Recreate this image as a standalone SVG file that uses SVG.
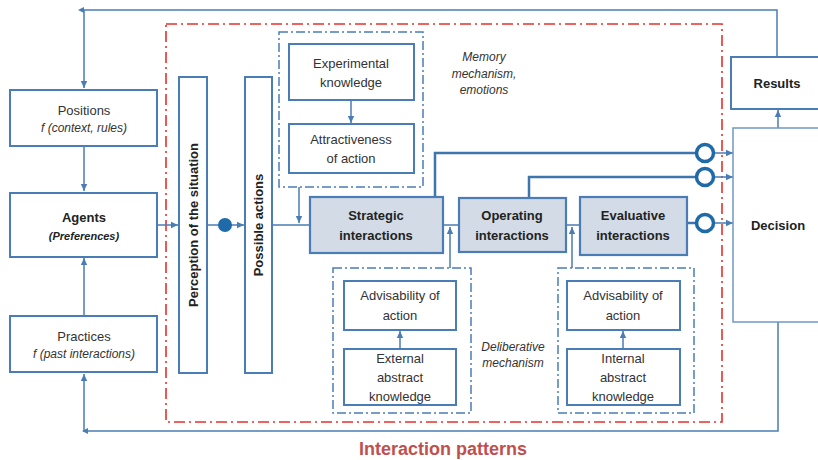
<svg xmlns="http://www.w3.org/2000/svg" width="818" height="460" viewBox="0 0 818 460">
<defs>
<style>
.box{fill:#fff;stroke:#4a7db5;stroke-width:2}
.gbox{fill:#d3dbe6;stroke:#4a7db5;stroke-width:2.2}
.thin{fill:#fff;stroke:#6f98c6;stroke-width:1.5}
.ln{fill:none;stroke:#4a7db5;stroke-width:1.5}
.lnb{fill:none;stroke:#3d75ad;stroke-width:2.5}
.dd{fill:none;stroke:#4a7db5;stroke-width:1.5;stroke-dasharray:9 3 2 3}
.red{fill:none;stroke:#e8302a;stroke-width:1.6;stroke-dasharray:11 4 2 4}
.ring{fill:#fff;stroke:#1f6aa8;stroke-width:3.5}
text{font-family:"Liberation Sans",Arial,sans-serif;font-size:13px;fill:#333;text-anchor:middle}
.b{font-weight:bold;fill:#222}
.i{font-style:italic;font-size:12px}
</style>
<marker id="ar" markerWidth="8" markerHeight="8" refX="7" refY="4" orient="auto" markerUnits="userSpaceOnUse"><path d="M0,0.8 L7,4 L0,7.2 Z" fill="#4a7db5"/></marker>
</defs>

<rect class="red" x="166" y="24" width="556" height="398"/>

<g id="connectors">
<path class="ln" d="M777,57 V10 H84 V88" marker-end="url(#ar)"/>
<path d="M84,7 L78,10 L84,13 Z" fill="#4a7db5"/>
<path class="ln" d="M84,146 V191" marker-end="url(#ar)"/>
<path class="ln" d="M84,316 V258" marker-end="url(#ar)"/>
<path class="ln" d="M778,322 V431 H84 V374" marker-end="url(#ar)"/>
<path d="M88,428 L82,431 L88,434 Z" fill="#4a7db5"/>
<path class="ln" d="M157,225 H178" marker-end="url(#ar)"/>
<path class="ln" d="M207,225 H244" marker-end="url(#ar)"/>
<circle cx="225" cy="225" r="7" fill="#1f6aa8"/>
<path class="ln" d="M272,225 H310"/>
<path class="ln" d="M299,187 V223" marker-end="url(#ar)"/>
<path class="ln" d="M351,100 V123" marker-end="url(#ar)"/>
<path class="ln" d="M443,225 H459"/>
<path class="ln" d="M566,225 H580"/>
<path class="ln" d="M450,268 V227" marker-end="url(#ar)"/>
<path class="ln" d="M572,268 V227" marker-end="url(#ar)"/>
<path class="ln" d="M400,349 V331" marker-end="url(#ar)"/>
<path class="ln" d="M623,349 V331" marker-end="url(#ar)"/>
<path class="lnb" d="M435,197 V153 H696"/>
<path class="lnb" d="M529,198 V177 H696"/>
<path class="lnb" d="M687,223 H696"/>
<path class="ln" d="M714,153 H733" marker-end="url(#ar)"/>
<path class="ln" d="M714,177 H733" marker-end="url(#ar)"/>
<path class="ln" d="M714,223 H733" marker-end="url(#ar)"/>
<circle class="ring" cx="705" cy="153" r="8.5"/>
<circle class="ring" cx="705" cy="177" r="8.5"/>
<circle class="ring" cx="705" cy="223" r="8.5"/>
<path class="ln" d="M778,128 V110" marker-end="url(#ar)"/>
</g>

<g id="positions"><rect class="box" x="10" y="90" width="147" height="56"/>
<text x="84" y="115">Positions</text><text class="i" x="84" y="132">f (context, rules)</text></g>
<g id="agents"><rect class="box" x="10" y="193" width="147" height="64"/>
<text class="b" x="84" y="222">Agents</text><text class="i b" x="84" y="240" style="font-size:11px">(Preferences)</text></g>
<g id="practices"><rect class="box" x="10" y="316" width="147" height="56"/>
<text x="84" y="341">Practices</text><text class="i" x="84" y="358">f (past interactions)</text></g>

<g id="perception"><rect class="box" x="179" y="77" width="28" height="296"/>
<text class="b" transform="translate(198,225) rotate(-90)">Perception of the situation</text></g>
<g id="possible-actions"><rect class="box" x="245" y="77" width="27" height="296"/>
<text class="b" transform="translate(263,225) rotate(-90)">Possible actions</text></g>

<g id="memory"><rect class="dd" x="279" y="32" width="144" height="155"/>
<text class="i" x="484" y="61">Memory</text><text class="i" x="484" y="78">mechanism,</text><text class="i" x="484" y="94">emotions</text></g>
<g id="experimental"><rect class="box" x="289" y="44" width="125" height="56"/>
<text x="351" y="68">Experimental</text><text x="351" y="87">knowledge</text></g>
<g id="attractiveness"><rect class="box" x="289" y="124" width="125" height="49"/>
<text x="351" y="144">Attractiveness</text><text x="351" y="163">of action</text></g>

<g id="strategic"><rect class="gbox" x="310" y="197" width="133" height="56"/>
<text class="b" x="376" y="220">Strategic</text><text class="b" x="376" y="240">interactions</text></g>
<g id="operating"><rect class="gbox" x="459" y="198" width="107" height="54"/>
<text class="b" x="512" y="220">Operating</text><text class="b" x="512" y="240">interactions</text></g>
<g id="evaluative"><rect class="gbox" x="580" y="197" width="107" height="58"/>
<text class="b" x="633" y="220">Evaluative</text><text class="b" x="633" y="240">interactions</text></g>

<g id="decision"><rect class="thin" x="733" y="128" width="90" height="194"/>
<text class="b" x="778" y="230">Decision</text></g>
<g id="results"><rect class="box" x="731" y="57" width="92" height="52"/>
<text class="b" x="777" y="88">Results</text></g>

<g id="deliberative-left"><rect class="dd" x="333" y="268" width="138" height="145"/>
<text class="i" x="513" y="351">Deliberative</text><text class="i" x="513" y="367">mechanism</text></g>
<g id="advisability-ext"><rect class="box" x="344" y="281" width="112" height="49"/>
<text x="400" y="300">Advisability of</text><text x="400" y="320">action</text></g>
<g id="external"><rect class="box" x="344" y="349" width="112" height="56"/>
<text x="400" y="363">External</text><text x="400" y="382">abstract</text><text x="400" y="401">knowledge</text></g>

<g id="deliberative-right"><rect class="dd" x="558" y="268" width="136" height="145"/></g>
<g id="advisability-int"><rect class="box" x="567" y="281" width="113" height="49"/>
<text x="623" y="300">Advisability of</text><text x="623" y="320">action</text></g>
<g id="internal"><rect class="box" x="567" y="349" width="113" height="56"/>
<text x="623" y="363">Internal</text><text x="623" y="382">abstract</text><text x="623" y="401">knowledge</text></g>

<text class="b" x="443" y="455" style="font-size:18px;fill:#c0504d">Interaction patterns</text>
</svg>
